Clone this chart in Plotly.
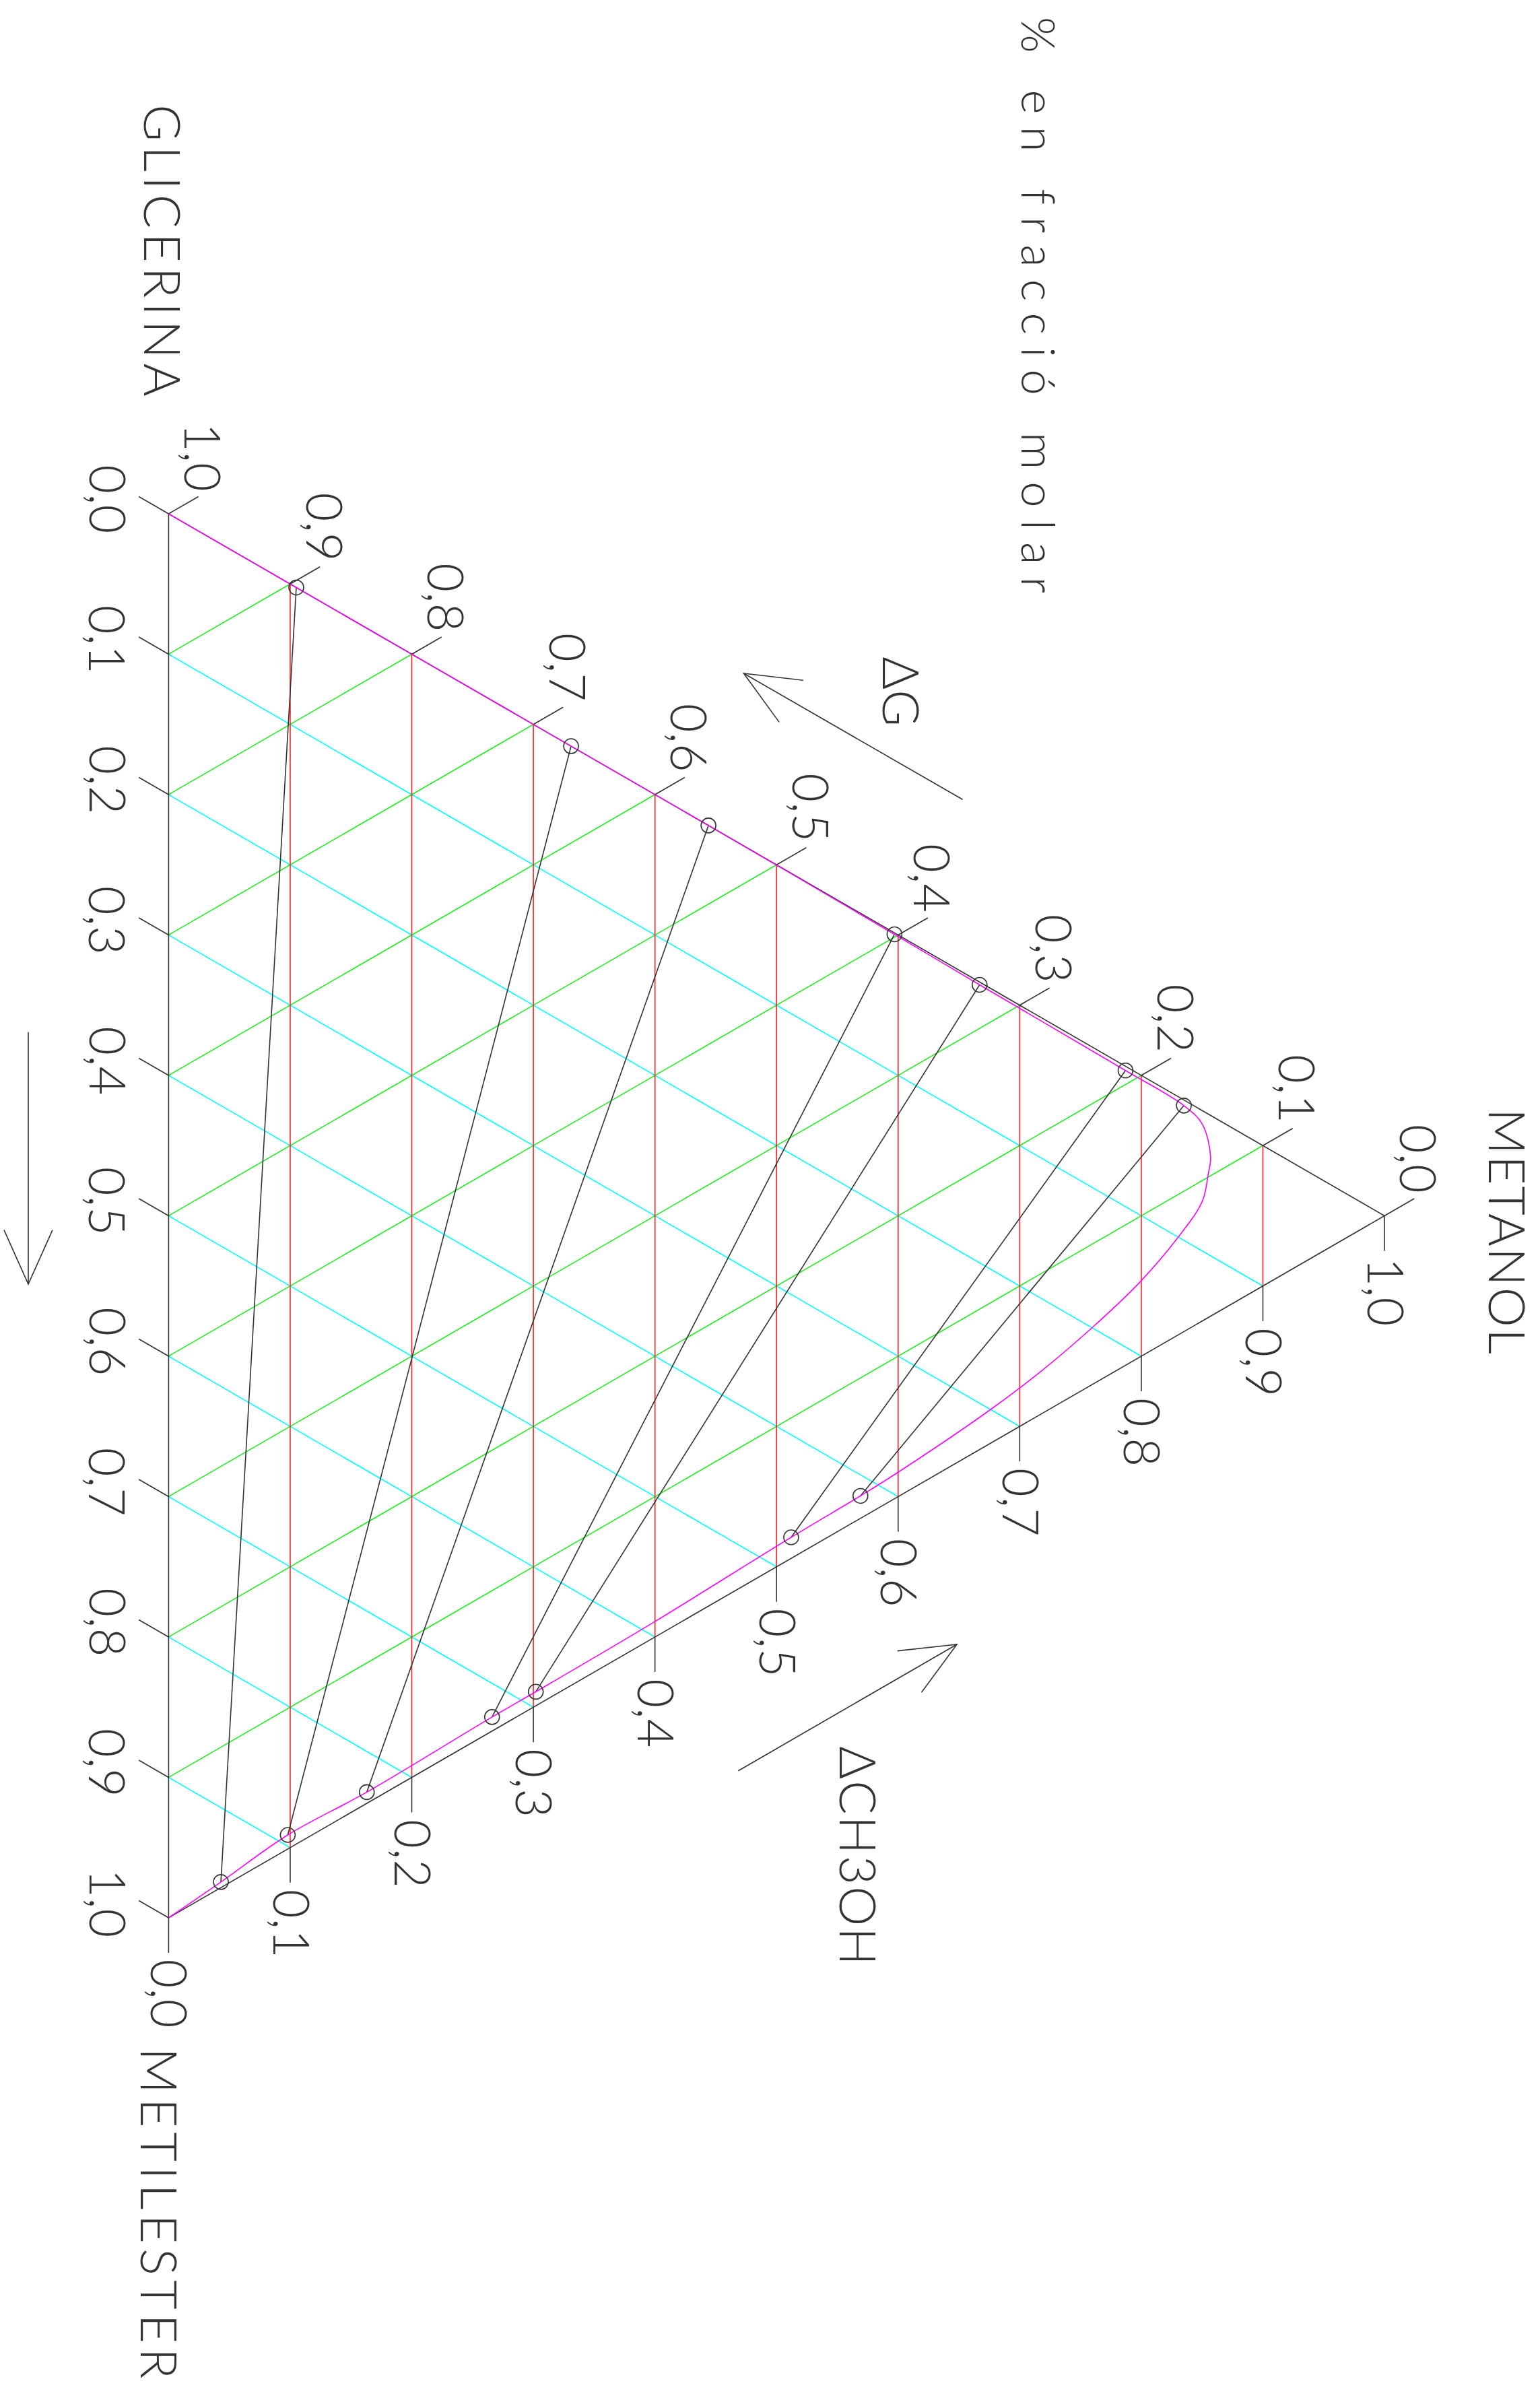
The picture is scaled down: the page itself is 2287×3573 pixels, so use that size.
import numpy as np
import plotly.graph_objects as go

# ---------------- data ----------------
TICK_VALUES = [0.0, 0.1, 0.2, 0.3, 0.4, 0.5, 0.6, 0.7, 0.8, 0.9, 1.0]
TICK_LABELS = ["0,0", "0,1", "0,2", "0,3", "0,4", "0,5", "0,6", "0,7", "0,8", "0,9", "1,0"]
GRID_VALUES = TICK_VALUES[1:-1]

COMPONENTS = ["GLICERINA", "METANOL", "METILESTER"]
TITLE = "% en fracció molar"
ARROW_LABELS = ["ΔG", "ΔCH3OH"]

# tie lines: methanol (M) and methyl ester (E) mole fractions; glycerol = 1 - M - E
TIE_GLY_M = [0.105, 0.331, 0.444, 0.597, 0.667, 0.787, 0.835]
TIE_GLY_E = [0.000, 0.000, 0.000, 0.001, 0.002, 0.003, 0.004]
TIE_EST_M = [0.043, 0.098, 0.163, 0.266, 0.302, 0.512, 0.569]
TIE_EST_E = [0.953, 0.892, 0.829, 0.724, 0.688, 0.473, 0.415]

# binodal (solubility) curve
BINODAL_M = [0.0, 0.105, 0.331, 0.444, 0.597, 0.667, 0.787, 0.835, 0.850, 0.857,
             0.855, 0.850, 0.830, 0.798, 0.759, 0.720, 0.676, 0.599,
             0.569, 0.512, 0.399, 0.302, 0.266, 0.163, 0.098, 0.043, 0.0]
BINODAL_E = [0.0, 0.000, 0.000, 0.000, 0.001, 0.002, 0.003, 0.004, 0.0095, 0.0295,
             0.043, 0.065, 0.1006, 0.149, 0.2006, 0.249, 0.300, 0.3837,
             0.415, 0.473, 0.590, 0.688, 0.724, 0.829, 0.892, 0.953, 1.0]

# ---------------- geometry / style ----------------
W, H = 2287, 3573
S = 2085.0              # pixels per unit side length
X0, Y0 = 250.4, 763.0   # pixel position of the glycerol vertex
R3 = np.sqrt(3) / 2
BLACK = "#333333"
FONT = "Lato"
WEIGHT = 300


def tern(M, E):
    M = np.asarray(M, float)
    E = np.asarray(E, float)
    return M * R3, E + M / 2


def P(px, py):
    """pixel position -> data coordinates"""
    return (px - X0) / S, (py - Y0) / S


def seg_trace(segs, color, width):
    xs, ys = [], []
    for (x1, y1, x2, y2) in segs:
        xs += [x1, x2, None]
        ys += [y1, y2, None]
    return go.Scatter(x=xs, y=ys, mode="lines", line=dict(color=color, width=width),
                      hoverinfo="skip", showlegend=False)


fig = go.Figure()

# grid lines
cyan, green, red = [], [], []
for v in GRID_VALUES:
    a = tern(0, v); b = tern(1 - v, v)
    cyan.append((float(a[0]), float(a[1]), float(b[0]), float(b[1])))
    a = tern(0, 1 - v); b = tern(1 - v, 0)
    green.append((float(a[0]), float(a[1]), float(b[0]), float(b[1])))
    a = tern(v, 0); b = tern(v, 1 - v)
    red.append((float(a[0]), float(a[1]), float(b[0]), float(b[1])))
fig.add_trace(seg_trace(cyan, "#00ffff", 1.6))
fig.add_trace(seg_trace(green, "#22ee22", 1.6))
fig.add_trace(seg_trace(red, "#ff2020", 1.6))

# triangle + ticks
tri_x, tri_y = tern([0, 1, 0, 0], [0, 0, 1, 0])
fig.add_trace(go.Scatter(x=tri_x, y=tri_y, mode="lines", line=dict(color=BLACK, width=1.6),
                         hoverinfo="skip", showlegend=False))
T = 51 / S
TB = 52 / S
ticks = []
for v in TICK_VALUES:
    # left edge (methyl ester scale)
    x, y = tern(0, v)
    ticks.append((float(x), float(y), float(x - R3 * T), float(y - 0.5 * T)))
    # upper edge (glycerol scale)
    x, y = tern(1 - v, 0)
    ticks.append((float(x), float(y), float(x + R3 * T), float(y - 0.5 * T)))
    # lower edge (methanol scale)
    x, y = tern(v, 1 - v)
    ticks.append((float(x), float(y), float(x), float(y + TB)))
fig.add_trace(seg_trace(ticks, BLACK, 1.6))

# tie lines
ties = []
for m1, e1, m2, e2 in zip(TIE_GLY_M, TIE_GLY_E, TIE_EST_M, TIE_EST_E):
    a = tern(m1, e1); b = tern(m2, e2)
    ties.append((float(a[0]), float(a[1]), float(b[0]), float(b[1])))
fig.add_trace(seg_trace(ties, BLACK, 1.6))

# binodal curve
bx, by = tern(BINODAL_M, BINODAL_E)
fig.add_trace(go.Scatter(x=bx, y=by, mode="lines",
                         line=dict(color="#ff00ff", width=1.6, shape="spline", smoothing=1.0),
                         hoverinfo="skip", showlegend=False))

# tie-line end points
cx, cy = tern(TIE_GLY_M + TIE_EST_M, TIE_GLY_E + TIE_EST_E)
fig.add_trace(go.Scatter(x=cx, y=cy, mode="markers",
                         marker=dict(symbol="circle-open", size=22, color=BLACK,
                                     line=dict(width=1.6, color=BLACK)),
                         hoverinfo="skip", showlegend=False))

# ---------------- text ----------------
ann = []


def label(x, y, text, size, xanchor="center", yanchor="middle", spacing=0):
    if spacing:
        text = f'<span style="letter-spacing:{spacing}px">' + text + '</span>'
    ann.append(dict(x=x, y=y, xref="x", yref="y", text=text, showarrow=False, textangle=90,
                    xanchor=xanchor, yanchor=yanchor,
                    font=dict(family=FONT, size=size, color=BLACK, weight=WEIGHT)))


LS = 74
for v, t in zip(TICK_VALUES, TICK_LABELS):
    # left edge: methyl ester fraction
    x, y = tern(0, v)
    label(float(x - R3 * T - 45 / S), float(y - 0.5 * T + 4 / S), t, LS)
    # upper edge: glycerol fraction
    x, y = tern(1 - v, 0)
    label(float(x + R3 * T + 8 / S), float(y - 0.5 * T - 6 / S), t, LS, yanchor="bottom")
    # lower edge: methanol fraction
    x, y = tern(v, 1 - v)
    label(float(x + 3 / S), float(y + TB + 8 / S), t, LS, yanchor="top")

CS = 75
label(*P(243, 375), COMPONENTS[0], CS, spacing=7)
label(*P(2240, 1829), COMPONENTS[1], CS, spacing=2)
label(*P(238, 3290), COMPONENTS[2], CS, spacing=7)
label(*P(1340, 1027), ARROW_LABELS[0], CS)
label(*P(1276, 2757), ARROW_LABELS[1], CS, spacing=2)
label(*P(1544, 462), TITLE, 69, spacing=18)

# ---------------- arrows ----------------
shapes = []


def polyline(points):
    pts = [P(*p) for p in points]
    path = "M " + " L ".join(f"{x:.5f},{y:.5f}" for x, y in pts)
    shapes.append(dict(type="path", path=path, xref="x", yref="y",
                       line=dict(color=BLACK, width=1.6)))


# ΔG arrow (parallel to the upper edge)
polyline([(1429.5, 1187.2), (1104.5, 1000.0)])
polyline([(1192.9, 1010.2), (1104.5, 1000.0), (1157.1, 1072.4)])
# ΔCH3OH arrow (parallel to the lower edge)
polyline([(1096.3, 2629.7), (1421.0, 2442.0)])
polyline([(1332.7, 2451.6), (1421.0, 2442.0), (1368.5, 2513.3)])
# left arrow (along the left edge)
polyline([(42.0, 1532.7), (42.0, 1907.0)])
polyline([(6.0, 1826.7), (42.0, 1907.0), (78.0, 1826.7)])

fig.update_layout(
    width=W, height=H,
    margin=dict(l=0, r=0, t=0, b=0, pad=0),
    paper_bgcolor="white", plot_bgcolor="white",
    showlegend=False,
    xaxis=dict(range=[-X0 / S, (W - X0) / S], visible=False, fixedrange=True),
    yaxis=dict(range=[(H - Y0) / S, -Y0 / S], visible=False, fixedrange=True),
    annotations=ann, shapes=shapes,
)

fig.write_html("out.html", config={"displayModeBar": False},
               post_script="document.body.style.margin='0';document.body.style.overflow='hidden';")
